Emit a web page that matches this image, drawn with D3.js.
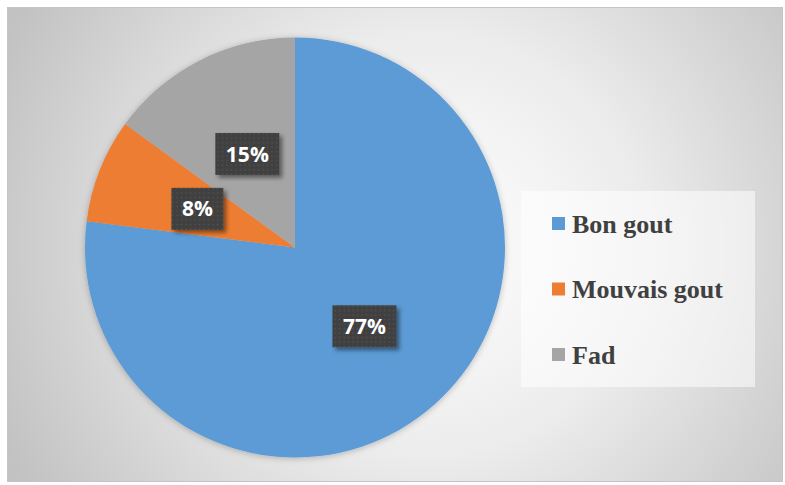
<!DOCTYPE html>
<html>
<head>
<meta charset="utf-8">
<script src="https://cdn.jsdelivr.net/npm/d3@7"></script>
<style>
  html, body { margin: 0; padding: 0; background: #ffffff; }
  svg { display: block; }
</style>
</head>
<body>
<svg id="chart" width="785" height="485"></svg>
<script>
// Taste survey results, in percent
const categories = ["Bon gout", "Mouvais gout", "Fad"];
const values = [77, 8, 15];
const colors = ["#5B9BD5", "#ED7D31", "#A5A5A5"];

const W = 785, H = 485;
const svg = d3.select("#chart");
const defs = svg.append("defs");

// Radial background: light centre fading to grey edges
const bg = defs.append("radialGradient")
  .attr("id", "bgGrad")
  .attr("gradientUnits", "userSpaceOnUse")
  .attr("cx", 430).attr("cy", 245).attr("r", 470);
bg.append("stop").attr("offset", "0%").attr("stop-color", "#ffffff");
bg.append("stop").attr("offset", "45%").attr("stop-color", "#ececec");
bg.append("stop").attr("offset", "100%").attr("stop-color", "#c2c2c2");

// Soft shadow round the pie
const pieShadow = defs.append("filter").attr("id", "pieShadow")
  .attr("x", "-10%").attr("y", "-10%").attr("width", "120%").attr("height", "120%");
pieShadow.append("feDropShadow")
  .attr("dx", 0).attr("dy", 1).attr("stdDeviation", 3)
  .attr("flood-color", "#000").attr("flood-opacity", 0.25);

// Shadow under the label boxes
const boxShadow = defs.append("filter").attr("id", "boxShadow")
  .attr("x", "-30%").attr("y", "-30%").attr("width", "160%").attr("height", "160%");
boxShadow.append("feDropShadow")
  .attr("dx", 3).attr("dy", 3).attr("stdDeviation", 2)
  .attr("flood-color", "#000").attr("flood-opacity", 0.45);

// Dotted dark fill for the label boxes
const dots = defs.append("pattern").attr("id", "dots")
  .attr("patternUnits", "userSpaceOnUse")
  .attr("width", 4.5).attr("height", 4.5);
dots.append("rect").attr("width", 4.5).attr("height", 4.5).attr("fill", "#3f3f3f");
dots.append("rect").attr("x", 1.5).attr("y", 1.5).attr("width", 1.5).attr("height", 1.5).attr("fill", "#545454");

// Chart frame
svg.append("rect")
  .attr("x", 7.5).attr("y", 7.5).attr("width", 775).attr("height", 474)
  .attr("fill", "url(#bgGrad)")
  .attr("stroke", "#c4c4c4").attr("stroke-width", 1);

// Pie
const cx = 295, cy = 247.5, R = 210;
const pie = d3.pie().sort(null).value(d => d)(values);
const arc = d3.arc().innerRadius(0).outerRadius(R);

const g = svg.append("g").attr("transform", `translate(${cx},${cy})`);
g.append("g").attr("filter", "url(#pieShadow)")
  .selectAll("path")
  .data(pie)
  .join("path")
  .attr("d", arc)
  .attr("fill", (d, i) => colors[i]);

// Data labels at the slice centroids
const labels = g.selectAll("g.lbl")
  .data(pie)
  .join("g")
  .attr("class", "lbl")
  .attr("transform", d => `translate(${arc.centroid(d)})`);

labels.each(function(d) {
  const sel = d3.select(this);
  const txt = sel.append("text")
    .attr("text-anchor", "middle")
    .attr("dy", "0.36em")
    .attr("font-family", "'Open Sans', 'Liberation Sans', sans-serif")
    .attr("font-weight", "bold")
    .attr("font-size", 21)
    .attr("fill", "#ffffff")
    .text(d.value + "%");
  const tw = txt.node().getComputedTextLength();
  const bw = tw + 21, bh = 42;
  sel.insert("rect", "text")
    .attr("x", -bw / 2).attr("y", -bh / 2)
    .attr("width", bw).attr("height", bh)
    .attr("fill", "url(#dots)")
    .attr("filter", "url(#boxShadow)");
});

// Legend
const lx = 521, ly = 191;
svg.append("rect")
  .attr("x", lx).attr("y", ly).attr("width", 234).attr("height", 196)
  .attr("fill", "#ffffff").attr("fill-opacity", 0.55);

const legendY = d3.scalePoint().domain(categories).range([224, 355]);
const items = svg.selectAll("g.leg")
  .data(categories)
  .join("g")
  .attr("class", "leg")
  .attr("transform", d => `translate(552,${legendY(d)})`);
items.append("rect")
  .attr("x", 0).attr("y", -7).attr("width", 13).attr("height", 13)
  .attr("fill", (d, i) => colors[i]);
items.append("text")
  .attr("x", 20).attr("y", 8.5)
  .attr("font-family", "'Liberation Serif', 'Times New Roman', serif")
  .attr("font-weight", "bold")
  .attr("font-size", 26)
  .attr("fill", "#404040")
  .text(d => d);
</script>
</body>
</html>
